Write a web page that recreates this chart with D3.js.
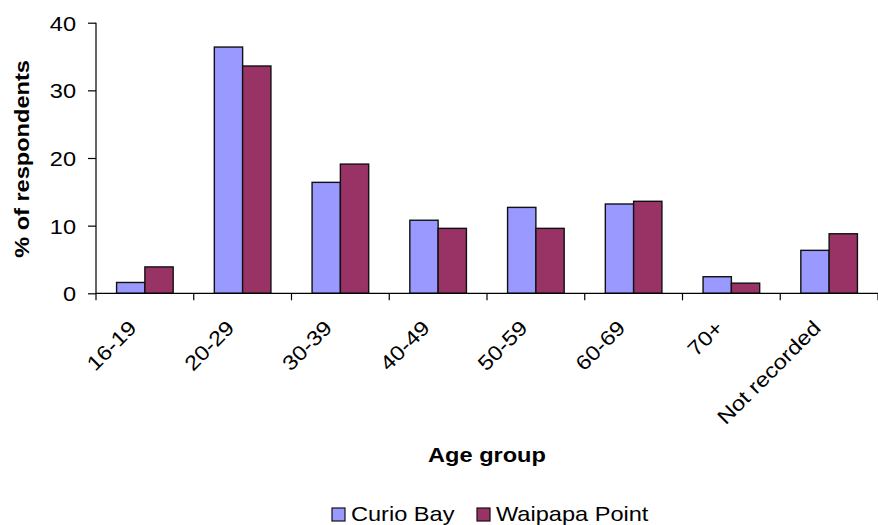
<!DOCTYPE html>
<html><head><meta charset="utf-8">
<script src="https://cdn.jsdelivr.net/npm/d3@7"></script>
<style>
html,body{margin:0;padding:0;background:#fff;}
text{font-family:"Liberation Sans",Arial,sans-serif;fill:#000;}
</style></head>
<body><svg id="c" width="878" height="525"></svg>
<script>
const categories = ["16-19","20-29","30-39","40-49","50-59","60-69","70+","Not recorded"];
const seriesNames = ["Curio Bay","Waipapa Point"];
const curioBay = [1.6, 36.4, 16.4, 10.8, 12.7, 13.2, 2.45, 6.35];
const waipapaPoint = [3.9, 33.6, 19.1, 9.6, 9.6, 13.6, 1.5, 8.8];
const yTicks = [0, 10, 20, 30, 40];
const colors = ["#9999FF", "#993366"];

const SX = 1.15;
const FS = 20.5;
const svg = d3.select("#c");
const x0 = d3.scaleBand().domain(categories).range([96, 878]).paddingInner(0).paddingOuter(0);
const x1 = d3.scaleBand().domain(seriesNames).range([0, x0.bandwidth()]).paddingInner(0).paddingOuter(0.727);
const y = d3.scaleLinear().domain([0, 40]).range([293.3, 22.7]);

const data = categories.map((c, i) => ({c, vals: [curioBay[i], waipapaPoint[i]]}));

// bars
const g = svg.append("g");
data.forEach(d => {
  d.vals.forEach((v, j) => {
    g.append("rect")
      .attr("x", x0(d.c) + x1(seriesNames[j]))
      .attr("y", y(v))
      .attr("width", x1.bandwidth())
      .attr("height", y(0) - y(v))
      .attr("fill", colors[j])
      .attr("stroke", "#111")
      .attr("stroke-width", 1.4);
  });
});

// y axis
const yAxis = svg.append("g").attr("transform", "translate(96,0)")
  .call(d3.axisLeft(y).tickValues(yTicks).tickSize(8).tickPadding(12).tickFormat(d3.format("d")));
yAxis.select(".domain").attr("stroke", "#000").attr("stroke-width", 1.2).attr("d", `M0,${y(40)}V${y(0)}`);
yAxis.selectAll(".tick line").attr("stroke", "#000").attr("stroke-width", 1.2);
yAxis.selectAll(".tick text").attr("font-size", FS).attr("font-family", "Liberation Sans, Arial, sans-serif")
  .attr("fill", "#000").attr("x", null).attr("dy", "0.36em")
  .attr("transform", `translate(-20,0) scale(${SX},1)`);

// x axis line and ticks
svg.append("line").attr("x1", 96).attr("x2", 878).attr("y1", y(0)).attr("y2", y(0))
  .attr("stroke", "#000").attr("stroke-width", 1.2);
const bounds = categories.map(c => x0(c)).concat([x0.range()[1]]);
svg.selectAll(".xt").data(bounds).enter().append("line")
  .attr("x1", d => d).attr("x2", d => d).attr("y1", y(0)).attr("y2", y(0) + 7)
  .attr("stroke", "#000").attr("stroke-width", 1.2);

// x labels
svg.selectAll(".xl").data(categories).enter().append("text")
  .attr("text-anchor", "end").attr("font-size", FS)
  .attr("transform", d => `translate(${x0(d) + x0.bandwidth()/2 - 7},${y(0) + 36}) rotate(-45) scale(${SX},1)`)
  .text(d => d);

// titles
svg.append("text").attr("text-anchor", "middle").attr("font-size", FS).attr("font-weight", "bold")
  .attr("transform", `translate(487,462) scale(${SX},1)`).text("Age group");
svg.append("text").attr("text-anchor", "middle").attr("font-size", FS).attr("font-weight", "bold")
  .attr("transform", `translate(29,159) rotate(-90) scale(${SX},1)`).text("% of respondents");

// legend
const legX = [332, 477];
seriesNames.forEach((s, j) => {
  svg.append("rect").attr("x", legX[j]).attr("y", 508).attr("width", 13).attr("height", 13)
    .attr("fill", colors[j]).attr("stroke", "#111").attr("stroke-width", 1.2);
  svg.append("text").attr("font-size", FS)
    .attr("transform", `translate(${legX[j] + 19},521) scale(${SX},1)`).text(s);
});
</script></body></html>
